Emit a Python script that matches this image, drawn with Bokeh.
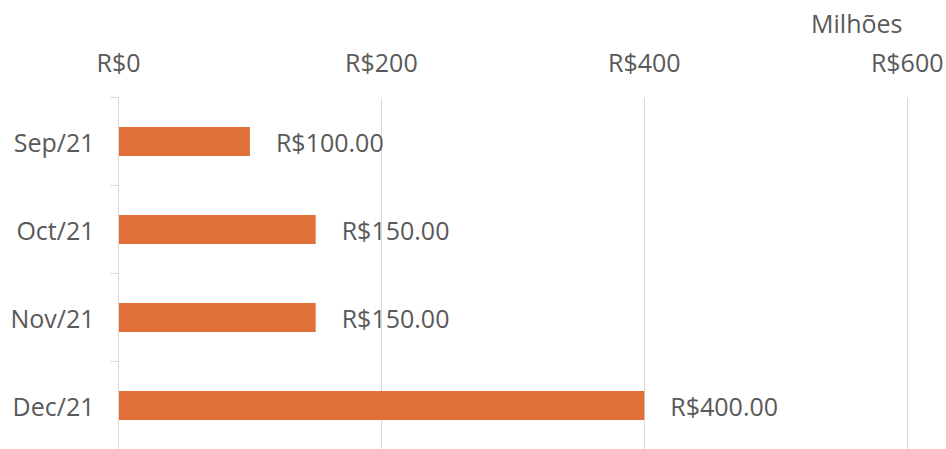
from bokeh.plotting import figure
from bokeh.models import ColumnDataSource, LabelSet, Range1d, FixedTicker
from bokeh.core.properties import value
from bokeh.embed import file_html
from bokeh.resources import INLINE

# ---- data ----
months = ["Sep/21", "Oct/21", "Nov/21", "Dec/21"]
values = [100, 150, 150, 400]          # R$ milhões
x_ticks = [0, 200, 400, 600]
x_tick_labels = ["R$0", "R$200", "R$400", "R$600"]
unit_label = "Milhões"

FONT = "Open Sans"
TXT = "#595959"
GRID = "#D9D9D9"
BAR = "#E2703A"

idx = list(range(len(months)))
src = ColumnDataSource(dict(
    y=idx,
    v=values,
    lab=[f"R${v:.2f}" for v in values],
))

p = figure(width=946, height=449, output_backend="svg", toolbar_location=None,
           x_axis_location="above",
           x_range=Range1d(0, 601), y_range=Range1d(len(months) - 0.5, -0.5),
           min_border_left=118, min_border_right=38, min_border_top=97, min_border_bottom=0)

p.hbar(y="y", left=0, right="v", height=0.33, source=src, color=BAR, line_color=None)

p.add_layout(LabelSet(x="v", y="y", text="lab", source=src, x_offset=26,
                      text_align="left", text_baseline="middle",
                      text_font=value(FONT), text_font_size="25px", text_color=TXT))

# title (unit)
p.title.text = unit_label
p.title.align = "right"
p.title.text_font = FONT
p.title.text_font_size = "25px"
p.title.text_font_style = "normal"
p.title.text_color = TXT
p.title.offset = 6
p.title.standoff = 4

# x axis (top)
xa = p.xaxis[0]
xa.ticker = FixedTicker(ticks=x_ticks)
xa.major_label_overrides = {t: l for t, l in zip(x_ticks, x_tick_labels)}
xa.axis_line_color = None
xa.major_tick_line_color = None
xa.major_tick_out = 0
xa.major_tick_in = 0
xa.minor_tick_line_color = None
xa.minor_tick_out = 0
xa.major_label_text_font = FONT
xa.major_label_text_font_size = "25px"
xa.major_label_text_color = TXT
xa.major_label_standoff = 19

# y axis (left) - labels at category centres, ticks at boundaries
ya = p.yaxis[0]
ya.ticker = FixedTicker(ticks=idx, minor_ticks=[i - 0.5 for i in range(len(months) + 1)])
ya.major_label_overrides = {i: m for i, m in zip(idx, months)}
ya.axis_line_color = GRID
ya.major_tick_line_color = None
ya.major_tick_out = 0
ya.major_tick_in = 0
ya.minor_tick_line_color = GRID
ya.minor_tick_out = 8
ya.minor_tick_in = 0
ya.major_label_text_font = FONT
ya.major_label_text_font_size = "25px"
ya.major_label_text_color = TXT
ya.major_label_standoff = 16

p.xgrid.grid_line_color = GRID
p.xgrid.ticker = FixedTicker(ticks=x_ticks)
p.ygrid.grid_line_color = None
p.outline_line_color = None
p.background_fill_color = "white"
p.border_fill_color = "white"

open("out.html", "w").write(file_html(p, INLINE))
